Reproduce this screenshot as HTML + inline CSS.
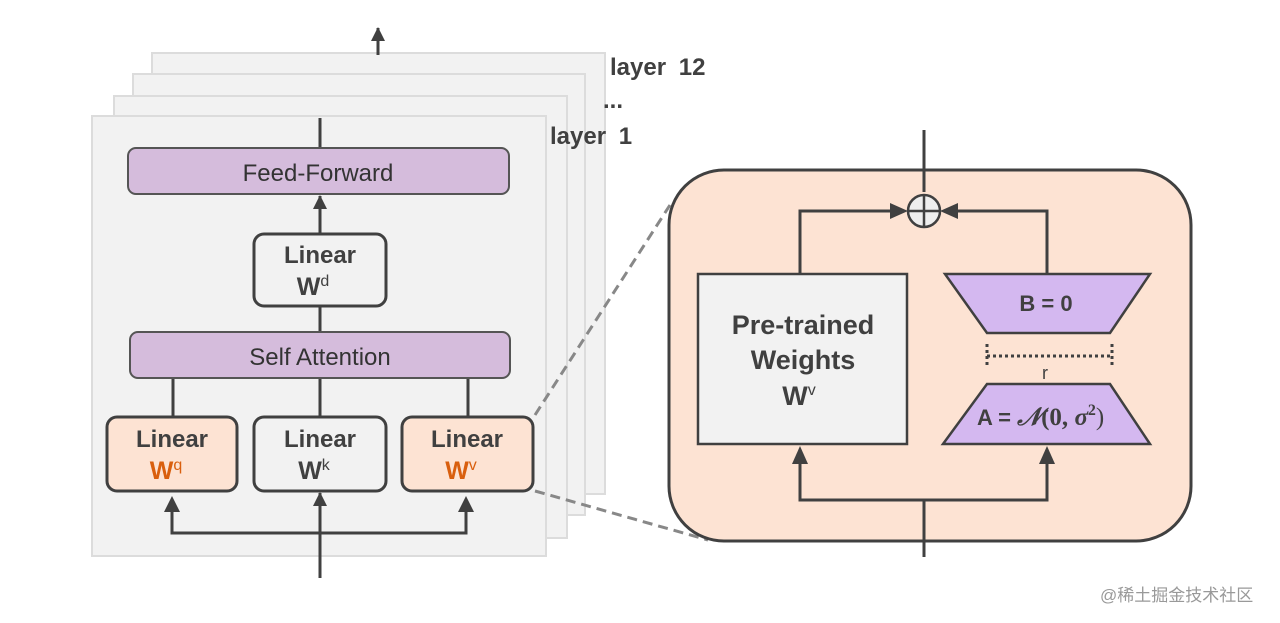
<!DOCTYPE html>
<html><head><meta charset="utf-8"><style>
html,body{margin:0;padding:0;background:#fff;}
svg{display:block;font-family:"Liberation Sans","Noto Sans CJK SC",sans-serif;}
</style></head><body>
<svg width="1280" height="623" viewBox="0 0 1280 623" xmlns="http://www.w3.org/2000/svg">
<defs>
<marker id="ah2" markerWidth="14" markerHeight="14" refX="13" refY="7" orient="auto" markerUnits="userSpaceOnUse">
<path d="M0,0 L14,7 L0,14 z" fill="#404040"/></marker>
</defs>
<rect width="1280" height="623" fill="#fff"/>
<g fill="#f2f2f2" stroke="#dcdcdc" stroke-width="2">
<rect x="152" y="53" width="453" height="441"/>
<rect x="133" y="74" width="452" height="441"/>
<rect x="114" y="96" width="453" height="442"/>
<rect x="92" y="116" width="454" height="440"/>
</g>
<g font-weight="bold" fill="#404040" font-size="24">
<text x="610" y="75" word-spacing="6">layer 12</text>
<text x="603" y="108">...</text>
<text x="550" y="144" word-spacing="6">layer 1</text>
</g>
<line x1="378" y1="55" x2="378" y2="28" stroke="#404040" stroke-width="3" marker-end="url(#ah2)"/>
<g stroke="#404040" stroke-width="3" fill="none">
<line x1="320" y1="118" x2="320" y2="148"/>
<line x1="320" y1="233" x2="320" y2="196" marker-end="url(#ah2)"/>
<line x1="320" y1="306" x2="320" y2="332"/>
<line x1="173" y1="378" x2="173" y2="417"/>
<line x1="320" y1="378" x2="320" y2="417"/>
<line x1="468" y1="378" x2="468" y2="417"/>
<line x1="320" y1="578" x2="320" y2="493" marker-end="url(#ah2)"/>
<polyline points="172,510 172,533 466,533 466,510"/>
</g>
<g fill="#404040">
<path d="M164,512 L172,496 L180,512z"/><path d="M458,512 L466,496 L474,512z"/>
</g>
<rect x="128" y="148" width="381" height="46" rx="8" fill="#d5bcdc" stroke="#555" stroke-width="2"/>
<text x="318" y="181" text-anchor="middle" font-size="24" fill="#333">Feed-Forward</text>
<rect x="130" y="332" width="380" height="46" rx="8" fill="#d5bcdc" stroke="#555" stroke-width="2"/>
<text x="320" y="365" text-anchor="middle" font-size="24" fill="#333">Self Attention</text>
<rect x="254" y="234" width="132" height="72" rx="10" fill="#f2f2f2" stroke="#404040" stroke-width="3"/>
<text x="320" y="263" text-anchor="middle" font-size="24" font-weight="bold" fill="#404040">Linear</text>
<text x="313" y="295" text-anchor="middle" font-size="25" font-weight="bold" fill="#404040">W<tspan font-size="16" dy="-9" font-weight="normal">d</tspan></text>
<rect x="107" y="417" width="130" height="74" rx="10" fill="#fde3d3" stroke="#404040" stroke-width="3"/>
<text x="172" y="447" text-anchor="middle" font-size="24" font-weight="bold" fill="#404040">Linear</text>
<text x="166" y="479" text-anchor="middle" font-size="25" font-weight="bold" fill="#d95f0e">W<tspan font-size="16" dy="-9" font-weight="normal">q</tspan></text>
<rect x="254" y="417" width="132" height="74" rx="10" fill="#f2f2f2" stroke="#404040" stroke-width="3"/>
<text x="320" y="447" text-anchor="middle" font-size="24" font-weight="bold" fill="#404040">Linear</text>
<text x="314" y="479" text-anchor="middle" font-size="25" font-weight="bold" fill="#404040">W<tspan font-size="16" dy="-9" font-weight="normal">k</tspan></text>
<rect x="402" y="417" width="131" height="74" rx="10" fill="#fde3d3" stroke="#404040" stroke-width="3"/>
<text x="467" y="447" text-anchor="middle" font-size="24" font-weight="bold" fill="#404040">Linear</text>
<text x="461" y="479" text-anchor="middle" font-size="25" font-weight="bold" fill="#d95f0e">W<tspan font-size="16" dy="-9" font-weight="normal">v</tspan></text>
<g stroke="#888" stroke-width="3" stroke-dasharray="10,6">
<line x1="535" y1="415" x2="670" y2="205"/>
<line x1="535" y1="491" x2="708" y2="540"/>
</g>
<rect x="669" y="170" width="522" height="371" rx="55" fill="#fde3d3" stroke="#404040" stroke-width="3"/>
<g stroke="#404040" stroke-width="3" fill="none">
<line x1="924" y1="130" x2="924" y2="192"/>
<polyline points="800,274 800,211 893,211"/>
<polyline points="1047,274 1047,211 955,211"/>
<line x1="924" y1="557" x2="924" y2="500"/>
<polyline points="800,462 800,500 1047,500 1047,462"/>
</g>
<g fill="#404040">
<path d="M890,203 L908,211 L890,219z"/><path d="M958,203 L940,211 L958,219z"/>
<path d="M792,464 L800,446 L808,464z"/><path d="M1039,464 L1047,446 L1055,464z"/>
</g>
<circle cx="924" cy="211" r="16" fill="#eeeeee" stroke="#404040" stroke-width="2.5"/>
<line x1="908" y1="211" x2="940" y2="211" stroke="#404040" stroke-width="2.5"/>
<line x1="924" y1="195" x2="924" y2="227" stroke="#404040" stroke-width="2.5"/>
<rect x="698" y="274" width="209" height="170" fill="#f2f2f2" stroke="#404040" stroke-width="2.5"/>
<g text-anchor="middle" font-weight="bold" fill="#404040" font-size="27">
<text x="803" y="334">Pre-trained</text>
<text x="803" y="369">Weights</text>
<text x="799" y="405">W<tspan font-size="16" dy="-10" font-weight="normal">v</tspan></text>
</g>
<path d="M945,274 L1150,274 L1110,333 L987,333z" fill="#d4b8f0" stroke="#404040" stroke-width="2.5"/>
<text x="1046" y="311" text-anchor="middle" font-size="22" font-weight="bold" fill="#404040">B = 0</text>
<path d="M987,384 L1110,384 L1150,444 L943,444z" fill="#d4b8f0" stroke="#404040" stroke-width="2.5"/>
<text x="977" y="425" font-size="22" font-weight="bold" fill="#404040">A = <tspan font-family="Liberation Serif,serif" font-style="italic" font-size="25">𝒩</tspan><tspan font-family="Liberation Serif,serif" font-size="25">(0, </tspan><tspan font-family="Liberation Serif,serif" font-style="italic" font-size="25">σ</tspan><tspan font-family="Liberation Serif,serif" font-size="16" dy="-10">2</tspan><tspan font-family="Liberation Serif,serif" dy="10" font-weight="normal" font-size="25">)</tspan></text>
<g stroke="#404040" stroke-width="3" stroke-dasharray="3,3">
<line x1="987" y1="356" x2="1112" y2="356"/>
<line x1="987" y1="344" x2="987" y2="368"/>
<line x1="1112" y1="344" x2="1112" y2="368"/>
</g>
<text x="1045" y="379" text-anchor="middle" font-size="18" fill="#404040">r</text>
<text x="1100" y="601" font-size="17" fill="#999">@稀土掘金技术社区</text>
</svg>
</body></html>
